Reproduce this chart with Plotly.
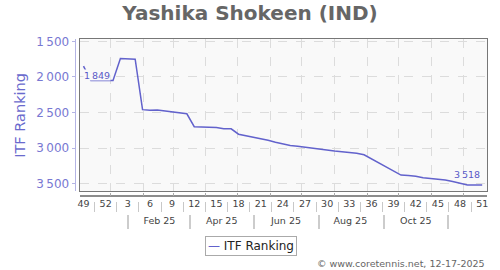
import datetime as dt
import plotly.graph_objects as go

# ---------------- data ----------------
weeks = [49, 50, 51, 52, 1, 2, 3, 4, 5, 6, 7, 8, 9, 10, 11, 12, 13, 14, 15, 16,
         17, 18, 19, 20, 21, 22, 23, 24, 25, 26, 27, 28, 29, 30, 31, 32, 33, 34,
         35, 36, 37, 38, 39, 40, 41, 42, 43, 44, 45, 46, 47, 48, 49, 50, 51]
ranking = [1849, 2050, 2050, 2050, 2050, 1740, 1745, 1750, 2460, 2468, 2465,
           2478, 2488, 2497, 2518, 2700, 2705, 2707, 2710, 2727, 2730, 2805,
           2825, 2843, 2860, 2890, 2918, 2942, 2965, 2975, 2990, 3003, 3020,
           3030, 3040, 3050, 3060, 3072, 3095, 3150, 3205, 3265, 3322, 3380,
           3385, 3395, 3417, 3428, 3438, 3448, 3470, 3497, 3518, 3518, 3518]
first_date = dt.datetime(2024, 12, 6)
month_grid = ["2025-%02d-01" % m for m in range(1, 13)]
month_labels = ["Feb 25", "Apr 25", "Jun 25", "Aug 25", "Oct 25"]
month_label_dates = ["2025-02-16", "2025-04-16", "2025-06-16", "2025-08-16", "2025-10-17"]
month_sep_dates = ["2025-01-17", "2025-03-17", "2025-05-17", "2025-07-17", "2025-09-17", "2025-11-17"]
y_ticks = [1500, 2000, 2500, 3000, 3500]

dates = [first_date + dt.timedelta(days=7 * i) for i in range(len(weeks))]
week_tick_dates = dates[::3]
week_tick_text = [str(w) for w in weeks[::3]]
week_sep_dates = [first_date + dt.timedelta(days=7 * (3 * k + 1.5)) for k in range(len(week_tick_dates) - 1)]

x_range = [dt.datetime(2024, 12, 2, 6), dt.datetime(2025, 12, 23, 15)]
y_range = [3610, 1472]

W, H = 500, 270
def px_x(p):
    return p / W
def px_y(p):
    return (H - p) / H

LINE = "#6262cc"
FONT = "DejaVu Sans"

def fmt(v):
    return f"{v:,}".replace(",", "\u2009")

fig = go.Figure()
fig.add_trace(go.Scatter(x=dates, y=ranking, mode="lines", name="ITF Ranking",
                         line=dict(color=LINE, width=1.5), xaxis="x", yaxis="y",
                         hoverinfo="skip"))
# invisible carriers so that the helper axes get drawn
for xa, ya in [("x2", "y"), ("x3", "y"), ("x4", "y"), ("x", "y2")]:
    fig.add_trace(go.Scatter(x=dates, y=ranking, mode="lines", xaxis=xa, yaxis=ya,
                             line=dict(width=0, color="rgba(0,0,0,0)"), opacity=0,
                             hoverinfo="skip", showlegend=False))

xdom = [px_x(78), px_x(488)]
ydom = [px_y(190), px_y(35)]

fig.update_layout(
    width=W, height=H,
    margin=dict(l=0, r=0, t=0, b=0),
    paper_bgcolor="white", plot_bgcolor="#f9f9f9",
    font=dict(family=FONT, size=10, color="#444"),
    separators=".\u2009",
    showlegend=False,
    title=dict(text="<b>Yashika Shokeen (IND)</b>", x=0.5, xanchor="center",
               y=px_y(13), yanchor="middle", yref="container",
               font=dict(family=FONT, size=20, color="#666666")),
    xaxis=dict(domain=xdom, type="date", range=x_range, anchor="y",
               tickvals=month_grid, showticklabels=False, ticks="",
               showgrid=True, gridcolor="#dcdcdc", griddash="dash", gridwidth=1,
               showline=True, mirror=True, linecolor="#777", linewidth=1,
               zeroline=False),
    yaxis=dict(domain=ydom, range=y_range, anchor="x",
               tickvals=y_ticks, showticklabels=False, ticks="",
               showgrid=True, gridcolor="#dcdcdc", griddash="dash", gridwidth=1,
               showline=True, mirror=True, linecolor="#777", linewidth=1,
               zeroline=False),
    xaxis2=dict(type="date", range=x_range, overlaying="x", anchor="free",
                position=px_y(195), showline=True, linecolor="#8c8c8c", linewidth=1.5,
                showgrid=False, zeroline=False, showticklabels=False,
                tickvals=month_grid, ticks="inside", ticklen=3, tickcolor="#aaa"),
    xaxis3=dict(type="date", range=x_range, overlaying="x", anchor="free",
                position=px_y(200), showline=False, showgrid=False, zeroline=False,
                tickvals=week_tick_dates, ticktext=week_tick_text, ticks="",
                ticklabelstandoff=-5,
                tickfont=dict(size=9.5, color="#444"),
                minor=dict(tickmode="array", tickvals=week_sep_dates, ticks="outside",
                           ticklen=10, tickcolor="#c8c8c8", tickwidth=1, showgrid=False)),
    xaxis4=dict(type="date", range=x_range, overlaying="x", anchor="free",
                position=px_y(213), showline=False, showgrid=False, zeroline=False,
                tickvals=month_label_dates, ticktext=month_labels, ticks="",
                ticklabelstandoff=-1,
                tickfont=dict(size=9.5, color="#444"),
                minor=dict(tickmode="array", tickvals=month_sep_dates, ticks="outside",
                           ticklen=14, tickcolor="#cccccc", tickwidth=2, showgrid=False)),
    yaxis2=dict(range=y_range, overlaying="y", anchor="free", side="left",
                position=px_x(73), showline=True, linecolor="#b4b4e4", linewidth=1,
                ticks="outside", ticklen=3, tickcolor="#b4b4e4",
                tickvals=y_ticks, separatethousands=True,
                tickfont=dict(size=12, color="#7878d2"),
                showgrid=False, zeroline=False,
                title=dict(text="ITF Ranking", standoff=6,
                           font=dict(size=14.5, color="#6a6acd"))),
)

fig.add_annotation(x=dates[0], y=ranking[0], xref="x", yref="y",
                   text=fmt(ranking[0]), showarrow=False, xanchor="left", yanchor="top",
                   yshift=-3, height=10, valign="middle", bgcolor="#f9f9f9", borderpad=0,
                   font=dict(size=9.5, color="#5a5ac8"))
fig.add_annotation(x=dates[-1], y=ranking[-1], xref="x", yref="y",
                   text=fmt(ranking[-1]), showarrow=False, xanchor="right", yanchor="bottom",
                   yshift=3, font=dict(size=9.5, color="#5a5ac8"))
fig.add_annotation(x=px_x(250), y=px_y(245.5), xref="paper", yref="paper",
                   text="<span style='color:%s'>\u2014</span> ITF Ranking" % LINE,
                   showarrow=False, xanchor="center", yanchor="middle",
                   bordercolor="#aaaaaa", borderwidth=1, borderpad=2, bgcolor="white",
                   font=dict(size=12, color="#222"))
fig.add_annotation(x=px_x(488), y=px_y(263), xref="paper", yref="paper",
                   text="\u00a9 www.coretennis.net, 12-17-2025", showarrow=False,
                   xanchor="right", yanchor="middle",
                   font=dict(size=9.5, color="#666"))

fig.write_html("out.html")
